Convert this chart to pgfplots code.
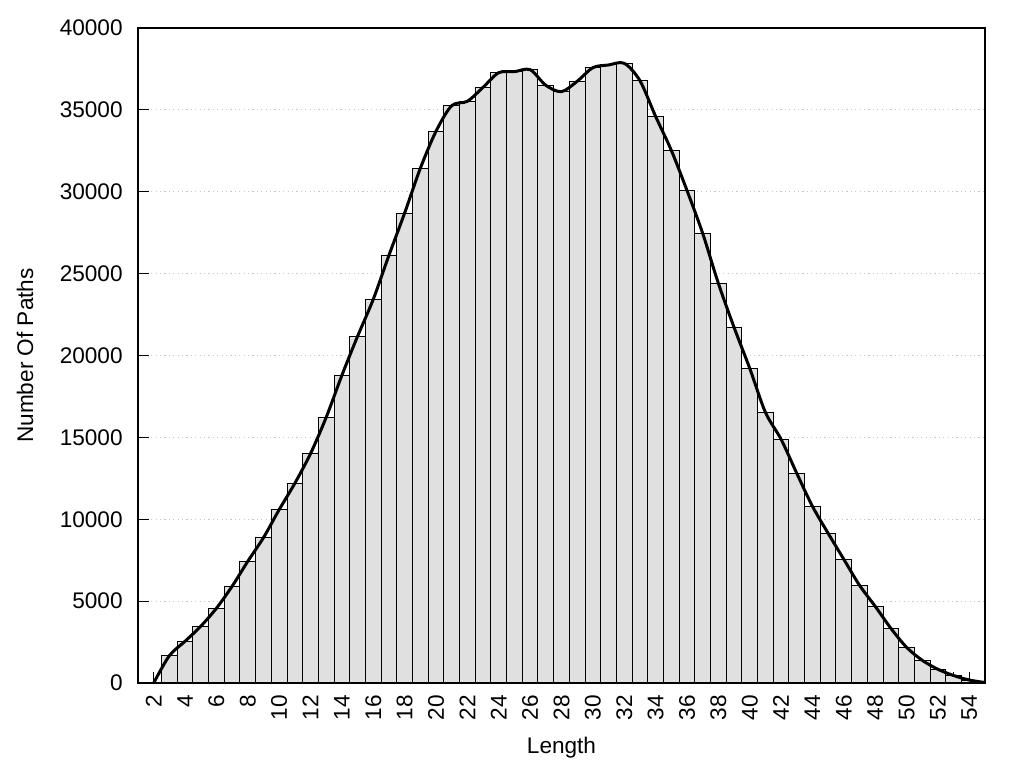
\documentclass[border=0pt]{standalone}
\usepackage{pgfplots}
\usepackage{pgfplotstable}
\pgfplotsset{compat=1.18}
\usepackage{fontspec}
\setmainfont{Liberation Sans}
\definecolor{barfill}{RGB}{224,224,224}
\definecolor{gridc}{RGB}{200,200,200}

\pgfplotstableread{
x y
2 0
3 1667
4 2546
5 3463
6 4562
7 5905
8 7432
9 8875
10 10585
11 12196
12 14010
13 16226
14 18791
15 21173
16 23432
17 26120
18 28700
19 31430
20 33692
21 35256
22 35524
23 36378
24 37272
25 37332
26 37455
27 36500
28 36112
29 36744
30 37577
31 37741
32 37844
33 36784
34 34600
35 32531
36 30080
37 27462
38 24408
39 21722
40 19218
41 16530
42 14881
43 12805
44 10789
45 9140
46 7552
47 5965
48 4682
49 3338
50 2178
51 1384
52 835
53 455
54 180
55 30
}\datatable

\begin{document}
\begin{tikzpicture}
\begin{axis}[
  scale only axis,
  width=423.5pt, height=327.5pt,
  xmin=1, xmax=55,
  ymin=0, ymax=40000,
  xtick={2,4,...,54},
  minor xtick={1,3,...,55},
  ytick={0,5000,...,40000},
  tick align=inside,
  tick pos=left,
  major tick length=5.5pt,
  minor tick length=5.5pt,
  every tick/.style={black, line width=0.5pt},
  axis line style={black, line width=0.65pt},
  ymajorgrids,
  major grid style={gridc, line width=0.6pt, dash pattern=on 0.6pt off 1.6pt},
  scaled y ticks=false,
  /pgf/number format/assume math mode=true,
  yticklabel={\pgfmathprintnumber[fixed,1000 sep={}]{\tick}},
  tick label style={font=\fontsize{11.3}{13}\selectfont},
  yticklabel style={inner sep=0pt, anchor=east, xshift=-7.5pt},
  xticklabel style={inner sep=0pt, yshift=-6pt, rotate=90, anchor=east},
  xlabel={Length},
  ylabel={Number Of Paths},
  label style={font=\fontsize{11.3}{13}\selectfont},
  xlabel style={at={(axis description cs:0.5,0)}, anchor=center, yshift=-32.5pt},
  ylabel style={at={(axis description cs:0,0.5)}, anchor=center, yshift=56.5pt},
]
\addplot[ybar, bar width=1, bar shift=0pt, fill=barfill, draw=black, line width=0.5pt,
  restrict x to domain=3:54] table[x=x, y=y] {\datatable};
\addplot[black, line width=1.5pt, smooth, no markers] table[x=x, y=y] {\datatable};
\end{axis}
\path ([shift={(-69pt,-42.5pt)}]current axis.south west) rectangle ([shift={(19.5pt,14pt)}]current axis.north east);
\end{tikzpicture}
\end{document}
